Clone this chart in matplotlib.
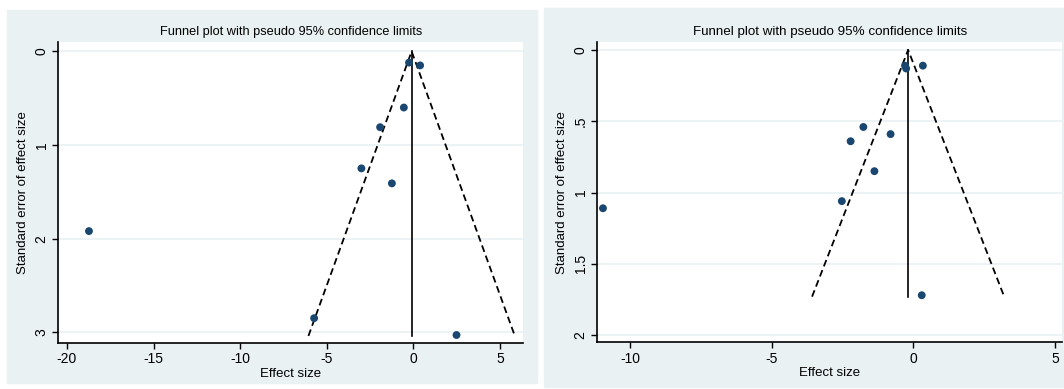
import numpy as np
import matplotlib
matplotlib.use("Agg")
import matplotlib.pyplot as plt
from matplotlib.patches import Rectangle

plt.rcParams['font.family'] = ['Liberation Sans', 'DejaVu Sans']
plt.rcParams['axes.unicode_minus'] = False

# study effect sizes and standard errors, first meta-analysis
left_es = [-0.25, 0.39, -0.55, -1.92, -3.0, -1.24, -18.73, -5.73, 2.49]
left_se = [0.12, 0.15, 0.60, 0.81, 1.25, 1.41, 1.92, 2.85, 3.03]
left_pooled = -0.1
left_se_max = 3.04
left_xticks = [-20, -15, -10, -5, 0, 5]
left_yticks = [0, 1, 2, 3]

# second meta-analysis
right_es = [-0.29, -0.25, 0.34, -1.76, -2.21, -0.80, -1.37, -2.52, -10.95, 0.30]
right_se = [0.11, 0.13, 0.11, 0.54, 0.64, 0.59, 0.85, 1.06, 1.11, 1.72]
right_pooled = -0.18
right_se_max = 1.73
right_xticks = [-10, -5, 0, 5]
right_yticks = [0, 0.5, 1, 1.5, 2]
right_yticklabels = ["0", ".5", "1", "1.5", "2"]

title = "Funnel plot with pseudo 95% confidence limits"
bg = "#e9f1f3"
navy = "#1a476f"

W, H = 1064, 389
fig = plt.figure(figsize=(W / 100, H / 100), dpi=100)


def px_rect(x0, y0, x1, y1):
    # pixel box (top-left origin) -> figure fraction [l, b, w, h]
    return [x0 / W, 1 - y1 / H, (x1 - x0) / W, (y1 - y0) / H]


def funnel(ax, es, se, pooled, se_max, xticks, yticks, yticklabels, xlim, ylim, title_size):
    ax.set_facecolor("white")
    for y in yticks:
        ax.axhline(y, color=bg, lw=1.2, zorder=0)
    half = 1.96 * se_max
    ax.plot([pooled - half, pooled, pooled + half], [se_max, 0, se_max],
            color="black", lw=1.3, linestyle=(0, (3.8, 2.2)), zorder=2)
    ax.plot([pooled, pooled], [0, se_max], color="black", lw=1.2, zorder=2)
    ax.scatter(es, se, s=32, color=navy, edgecolors="none", zorder=3)

    ax.set_xlim(*xlim)
    ax.set_ylim(*ylim)
    ax.set_xticks(xticks)
    ax.set_yticks(yticks)
    ax.set_yticklabels(yticklabels, rotation=90, va="center")
    ax.tick_params(direction="out", length=4, width=1, labelsize=10, pad=3)
    for s in ["top", "right"]:
        ax.spines[s].set_visible(False)
    for s in ["left", "bottom"]:
        ax.spines[s].set_linewidth(1.2)
    ax.set_xlabel("Effect size", fontsize=9.5, labelpad=1)
    ax.set_ylabel("Standard error of effect size", fontsize=9.5, labelpad=4)
    ax.set_title(title, fontsize=title_size, pad=5)


# panel backgrounds, kept behind the axes
fig.patches.append(Rectangle((7 / W, 1 - 383 / H), 530 / W, 373 / H,
                             transform=fig.transFigure, color=bg, zorder=-10))
fig.patches.append(Rectangle((544 / W, 1 - 387 / H), 520 / W, 379 / H,
                             transform=fig.transFigure, color=bg, zorder=-10))

ax1 = fig.add_axes(px_rect(58.3, 42, 523, 342.5))
funnel(ax1, left_es, left_se, left_pooled, left_se_max, left_xticks,
       left_yticks, [str(t) for t in left_yticks], (-20.5, 6.33), (3.11, -0.1), 9.2)

ax2 = fig.add_axes(px_rect(597.3, 42, 1062, 342.3))
funnel(ax2, right_es, right_se, right_pooled, right_se_max, right_xticks,
       right_yticks, right_yticklabels, (-11.15, 5.25), (2.05, -0.056), 9.6)

fig.savefig("out.png", dpi=100)
